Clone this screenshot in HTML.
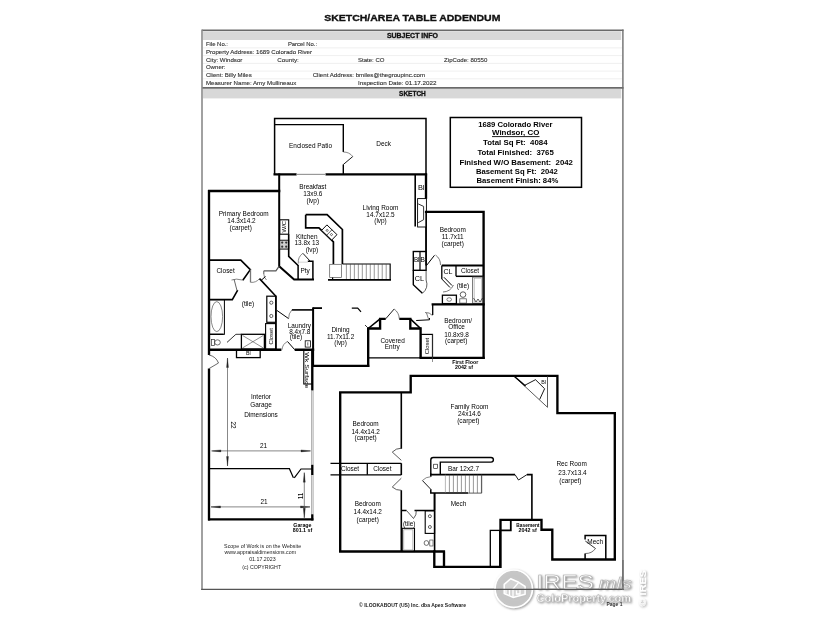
<!DOCTYPE html>
<html><head><meta charset="utf-8"><style>
html,body{margin:0;padding:0;background:#fff;}
svg{display:block;opacity:0.999;}
text{font-family:"Liberation Sans", sans-serif;}
</style></head><body>
<svg width="825" height="619" viewBox="0 0 825 619">
<rect width="825" height="619" fill="#fff"/>
<text x="324.2" y="21.0" font-size="9.9" font-weight="bold" textLength="176.2" lengthAdjust="spacingAndGlyphs" fill="#111" stroke="#111" stroke-width="0.35">SKETCH/AREA TABLE ADDENDUM</text>
<rect x="202" y="30.6" width="421" height="558.8" fill="#fff" stroke="none"/>
<rect x="203" y="31.2" width="418.2" height="8.8" fill="#d8d8d8"/>
<rect x="203" y="88.8" width="418.2" height="9.6" fill="#d8d8d8"/>
<line x1="203" y1="47.9" x2="622" y2="47.9" stroke="#e4e4e4" stroke-width="0.6"/>
<line x1="203" y1="55.6" x2="622" y2="55.6" stroke="#e4e4e4" stroke-width="0.6"/>
<line x1="203" y1="63.4" x2="622" y2="63.4" stroke="#e4e4e4" stroke-width="0.6"/>
<line x1="203" y1="71.1" x2="622" y2="71.1" stroke="#e4e4e4" stroke-width="0.6"/>
<line x1="203" y1="78.8" x2="622" y2="78.8" stroke="#e4e4e4" stroke-width="0.6"/>
<line x1="202" y1="30.3" x2="623.5" y2="30.3" stroke="#6a6a6a" stroke-width="1.6"/>
<line x1="202" y1="87.9" x2="623.5" y2="87.9" stroke="#6a6a6a" stroke-width="1.6"/>
<line x1="202" y1="29.5" x2="202" y2="590" stroke="#8a8a8a" stroke-width="1.6"/>
<line x1="622.9" y1="29.5" x2="622.9" y2="590" stroke="#6e6e6e" stroke-width="1.4"/>
<line x1="201.2" y1="589.4" x2="623.6" y2="589.4" stroke="#555" stroke-width="1.2"/>
<text x="386.9" y="37.5" font-size="6.6" font-weight="bold" textLength="51.1" lengthAdjust="spacingAndGlyphs" fill="#111" stroke="#111" stroke-width="0.3">SUBJECT INFO</text>
<text x="399.1" y="95.7" font-size="6.6" font-weight="bold" textLength="26.7" lengthAdjust="spacingAndGlyphs" fill="#111" stroke="#111" stroke-width="0.3">SKETCH</text>
<text x="205.9" y="46.3" font-size="5.6" textLength="22.1" lengthAdjust="spacingAndGlyphs" fill="#333" stroke="#333" stroke-width="0.12">File No.:</text>
<text x="287.9" y="46.3" font-size="5.6" textLength="29.2" lengthAdjust="spacingAndGlyphs" fill="#333" stroke="#333" stroke-width="0.12">Parcel No.:</text>
<text x="205.9" y="53.7" font-size="5.6" textLength="106.1" lengthAdjust="spacingAndGlyphs" fill="#333" stroke="#333" stroke-width="0.12">Property Address: 1689 Colorado River</text>
<text x="205.9" y="61.5" font-size="5.6" textLength="36.5" lengthAdjust="spacingAndGlyphs" fill="#333" stroke="#333" stroke-width="0.12">City: Windsor</text>
<text x="277.2" y="61.5" font-size="5.6" textLength="21.6" lengthAdjust="spacingAndGlyphs" fill="#333" stroke="#333" stroke-width="0.12">County:</text>
<text x="358.0" y="61.5" font-size="5.6" textLength="26.5" lengthAdjust="spacingAndGlyphs" fill="#333" stroke="#333" stroke-width="0.12">State: CO</text>
<text x="444.1" y="61.5" font-size="5.6" textLength="43.2" lengthAdjust="spacingAndGlyphs" fill="#333" stroke="#333" stroke-width="0.12">ZipCode: 80550</text>
<text x="205.9" y="69.2" font-size="5.6" textLength="19.6" lengthAdjust="spacingAndGlyphs" fill="#333" stroke="#333" stroke-width="0.12">Owner:</text>
<text x="205.9" y="76.9" font-size="5.6" textLength="45.9" lengthAdjust="spacingAndGlyphs" fill="#333" stroke="#333" stroke-width="0.12">Client: Billy Miles</text>
<text x="312.7" y="76.9" font-size="5.6" textLength="112.4" lengthAdjust="spacingAndGlyphs" fill="#333" stroke="#333" stroke-width="0.12">Client Address: bmiles@thegroupinc.com</text>
<text x="205.9" y="84.6" font-size="5.6" textLength="90.5" lengthAdjust="spacingAndGlyphs" fill="#333" stroke="#333" stroke-width="0.12">Measurer Name: Amy Mullineaux</text>
<text x="358.0" y="84.6" font-size="5.6" textLength="78.6" lengthAdjust="spacingAndGlyphs" fill="#333" stroke="#333" stroke-width="0.12">Inspection Date: 01.17.2022</text>
<rect x="450.3" y="117.5" width="131.2" height="69.8" stroke="#000" stroke-width="1.5" fill="none"/>
<text x="478.2" y="127.1" font-size="8.0" font-weight="bold" textLength="74.3" lengthAdjust="spacingAndGlyphs" fill="#000">1689 Colorado River</text>
<text x="492.0" y="135.1" font-size="8.0" font-weight="bold" textLength="47.3" lengthAdjust="spacingAndGlyphs" fill="#000">Windsor, CO</text>
<line x1="492" y1="136.6" x2="539.5" y2="136.6" stroke="#000" stroke-width="0.9"/>
<text x="483.1" y="144.9" font-size="8.0" font-weight="bold" textLength="64.5" lengthAdjust="spacingAndGlyphs" fill="#000">Total Sq Ft:  4084</text>
<text x="477.4" y="154.5" font-size="8.0" font-weight="bold" textLength="76.4" lengthAdjust="spacingAndGlyphs" fill="#000">Total Finished:  3765</text>
<text x="459.4" y="164.9" font-size="8.0" font-weight="bold" textLength="113.5" lengthAdjust="spacingAndGlyphs" fill="#000">Finished W/O Basement:  2042</text>
<text x="475.9" y="174.0" font-size="8.0" font-weight="bold" textLength="82.0" lengthAdjust="spacingAndGlyphs" fill="#000">Basement Sq Ft:  2042</text>
<text x="476.5" y="182.7" font-size="8.0" font-weight="bold" textLength="81.8" lengthAdjust="spacingAndGlyphs" fill="#000">Basement Finish: 84%</text>
<text x="359.1" y="606.5" font-size="5.0" font-weight="bold" textLength="106.9" lengthAdjust="spacingAndGlyphs" fill="#222">© ILOOKABOUT (US) Inc. dba Apex Software</text>
<text x="224.1" y="548.1" font-size="5.3" textLength="77.0" lengthAdjust="spacingAndGlyphs" fill="#222">Scope of Work is on the Website</text>
<text x="224.5" y="554.1" font-size="5.3" textLength="71.5" lengthAdjust="spacingAndGlyphs" fill="#222">www.appraisaldimensions.com</text>
<text x="249.2" y="561.1" font-size="5.3" textLength="26.4" lengthAdjust="spacingAndGlyphs" fill="#222">01.17.2023</text>
<text x="242.3" y="568.7" font-size="5.3" textLength="38.8" lengthAdjust="spacingAndGlyphs" fill="#222">(c) COPYRIGHT</text>
<path d="M274.6 174.4 V118.4 H426 V174.4" stroke="#000" stroke-width="1.5" fill="none"/>
<path d="M274.6 124.6 H343.3 V152 M343.3 164.5 V174.4" stroke="#000" stroke-width="1.4" fill="none"/>
<path d="M343.3 164.5 L352.8 156.5" stroke="#000" stroke-width="0.9" fill="none"/>
<path d="M343.3 152 A12 12 0 0 1 352.8 156.5" stroke="#555" stroke-width="0.7" fill="none"/>
<path d="M273.5 174.4 H296.6 M325.5 174.4 H427.1" stroke="#000" stroke-width="2.35" fill="none"/>
<path d="M296.6 174.4 H325.5" stroke="#999" stroke-width="1.2" fill="none"/>
<path d="M279.2 173.5 V266.2 L294.1 279.5 H314" stroke="#000" stroke-width="2.0" fill="none"/>
<path d="M208 191 H280.3" stroke="#000" stroke-width="2.35" fill="none"/>
<path d="M209 189.9 V355 M209 368.6 V520.4" stroke="#000" stroke-width="2.35" fill="none"/>
<path d="M209 260.1 H240.8 L250.3 269.6 L242.8 280.3" stroke="#000" stroke-width="1.6" fill="none"/>
<path d="M237.7 290.2 L232.3 299.6 H209" stroke="#000" stroke-width="1.6" fill="none"/>
<path d="M237 290.6 L234 279" stroke="#666" stroke-width="1.0" fill="none"/>
<path d="M231.5 280 Q236 278.2 242.8 280.1" stroke="#666" stroke-width="0.8" fill="none"/>
<path d="M250.5 269.5 V282.3" stroke="#777" stroke-width="1.3" fill="none"/>
<path d="M250.5 282.3 A10 10 0 0 0 259.5 278.6" stroke="#555" stroke-width="0.7" fill="none"/>
<path d="M263.8 270.8 H275.9 L279.2 266.2" stroke="#555" stroke-width="1.2" fill="none"/>
<path d="M263.8 270.8 V274" stroke="#555" stroke-width="1.0" fill="none"/>
<path d="M263.8 274 A9 9 0 0 0 266.5 280" stroke="#555" stroke-width="0.7" fill="none"/>
<path d="M259.5 278.6 L275.9 296.2 V349.7" stroke="#000" stroke-width="1.6" fill="none"/>
<path d="M261 280.5 L265.5 276.5" stroke="#000" stroke-width="1.0" fill="none"/>
<rect x="266.8" y="296.2" width="9.1" height="26.1" stroke="#000" stroke-width="1.2" fill="none"/>
<circle cx="271.3" cy="302.7" r="1.6" fill="none" stroke="#000" stroke-width="0.6"/>
<circle cx="271.3" cy="316" r="1.6" fill="none" stroke="#000" stroke-width="0.6"/>
<rect x="265.6" y="323.6" width="10.3" height="25.5" stroke="#000" stroke-width="1.1" fill="none"/>
<rect x="209" y="299.6" width="15.4" height="34.7" stroke="#000" stroke-width="1.0" fill="none"/>
<ellipse cx="216.8" cy="316.6" rx="5.8" ry="15" fill="none" stroke="#555" stroke-width="0.7"/>
<line x1="209" y1="334.3" x2="223.5" y2="334.3" stroke="#000" stroke-width="1.3"/>
<ellipse cx="217.5" cy="342.4" rx="2.8" ry="2.6" fill="none" stroke="#333" stroke-width="0.7"/>
<rect x="211.5" y="339.5" width="3" height="6" fill="none" stroke="#333" stroke-width="0.7"/>
<rect x="241.4" y="334.3" width="23" height="14.8" stroke="#000" stroke-width="1.3" fill="none"/>
<path d="M242.6 335.5 L263.2 347.9 M263.2 335.5 L242.6 347.9" stroke="#444" stroke-width="0.6" fill="none"/>
<path d="M241.4 334.3 L235.9 334.3 L227 342.4" stroke="#333" stroke-width="1.0" fill="none"/>
<path d="M208 349.7 H281.4 M294.7 349.7 H314.2" stroke="#000" stroke-width="2.35" fill="none"/>
<path d="M291.9 309.9 H313.1" stroke="#000" stroke-width="1.6" fill="none"/>
<path d="M277 310.5 L288.6 318.6" stroke="#000" stroke-width="1.0" fill="none"/>
<path d="M291.9 309.9 A12 12 0 0 0 288.6 318.6" stroke="#555" stroke-width="0.7" fill="none"/>
<path d="M313.1 307.5 V367" stroke="#000" stroke-width="2.0" fill="none"/>
<path d="M294.7 349.7 L287.5 341.5" stroke="#000" stroke-width="1.0" fill="none"/>
<path d="M282 349.7 A10 10 0 0 1 287.5 341.5" stroke="#555" stroke-width="0.7" fill="none"/>
<rect x="303.8" y="349.8" width="8.5" height="34.2" stroke="#000" stroke-width="1.1" fill="none"/>
<path d="M312.3 349 V390.5" stroke="#000" stroke-width="2.35" fill="none"/>
<rect x="236.5" y="349.7" width="23.7" height="7.9" stroke="#000" stroke-width="1.3" fill="none"/>
<path d="M209 355 A13 13 0 0 1 218.5 363 L209 368.6" stroke="#444" stroke-width="0.8" fill="none"/>
<path d="M311.6 390.5 V464.7 M311.6 474.9 V514.2 M313.1 390.5 V464.7 M313.1 474.9 V514.2" stroke="#888" stroke-width="0.7" fill="none"/>
<path d="M312.3 464.7 V474.9 M312.3 514.2 V520.4" stroke="#000" stroke-width="2.35" fill="none"/>
<path d="M209 468.7 H289.4 L293.4 477.8 M294.3 477.8 L301 469 H312" stroke="#000" stroke-width="1.2" fill="none"/>
<path d="M208 519.4 H313.4" stroke="#000" stroke-width="2.35" fill="none"/>
<path d="M227.5 358 V466" stroke="#555" stroke-width="0.7" fill="none"/>
<path d="M226.5 367.5 L227.5 358 L228.5 367.5 Z M226.5 456.5 L227.5 466 L228.5 456.5 Z" stroke="#222" stroke-width="0.3" fill="#222"/>
<path d="M212.3 450.9 H310.5" stroke="#555" stroke-width="0.7" fill="none"/>
<path d="M211.4 450.9 L220.9 449.9 V451.9 Z M310.5 450.9 L301 449.9 V451.9 Z" stroke="#222" stroke-width="0.3" fill="#222"/>
<path d="M211 506.9 H310" stroke="#555" stroke-width="0.7" fill="none"/>
<path d="M211 506.9 L220.5 505.9 V507.9 Z M310 506.9 L300.5 505.9 V507.9 Z" stroke="#222" stroke-width="0.3" fill="#222"/>
<path d="M304.3 472.7 V517.8" stroke="#555" stroke-width="0.7" fill="none"/>
<path d="M303.3 482.2 L304.3 472.7 L305.3 482.2 Z M303.3 508.3 L304.3 517.8 L305.3 508.3 Z" stroke="#222" stroke-width="0.3" fill="#222"/>
<rect x="279.7" y="219.8" width="9" height="14.4" stroke="#000" stroke-width="1.1" fill="none"/>
<rect x="279.7" y="240.2" width="9" height="8.9" stroke="#000" stroke-width="0.9" fill="#cfcfcf"/>
<circle cx="282.2" cy="242.6" r="1.1" fill="#333"/>
<circle cx="286.2" cy="242.6" r="1.1" fill="#333"/>
<circle cx="282.2" cy="246.7" r="1.1" fill="#333"/>
<circle cx="286.2" cy="246.7" r="1.1" fill="#333"/>
<path d="M288.7 234.2 V256.3 L298.1 265.5" stroke="#000" stroke-width="1.6" fill="none"/>
<path d="M298.1 265 V279.4 M307.8 261.3 H312.9 V279.4" stroke="#000" stroke-width="1.5" fill="none"/>
<path d="M310.3 261.3 L302.9 253.3" stroke="#000" stroke-width="0.9" fill="none"/>
<path d="M302.9 253.3 A11 11 0 0 0 298.3 263.5" stroke="#555" stroke-width="0.7" fill="none"/>
<path d="M298.6 262.2 H307.8" stroke="#bbb" stroke-width="0.6" fill="none"/>
<path d="M305.7 214.7 H327.1 L342.4 229.5 V263.9 M305.7 214.7 V227.8 H318.9 L333.4 241.8 V263.9" stroke="#000" stroke-width="1.7" fill="none"/>
<g transform="translate(329.3 232.5) rotate(44)"><rect x="-7" y="-3.8" width="14" height="7.6" fill="#fff" stroke="#000" stroke-width="0.9"/><line x1="0" y1="-3.8" x2="0" y2="3.8" stroke="#000" stroke-width="0.6"/><circle cx="-3" cy="0" r="1" fill="none" stroke="#000" stroke-width="0.5"/><circle cx="3" cy="0" r="1" fill="none" stroke="#000" stroke-width="0.5"/></g>
<rect x="329.7" y="264.3" width="11.8" height="13.2" stroke="#555" stroke-width="0.7" fill="none"/>
<line x1="332.6" y1="277.5" x2="332.6" y2="279.8" stroke="#000" stroke-width="1.2"/>
<path d="M342.4 264 H390.2 V279.7" stroke="#000" stroke-width="1.1" fill="none"/>
<line x1="346.4" y1="264" x2="346.4" y2="279.7" stroke="#444" stroke-width="0.55"/>
<line x1="350.38" y1="264" x2="350.38" y2="279.7" stroke="#444" stroke-width="0.55"/>
<line x1="354.35999999999996" y1="264" x2="354.35999999999996" y2="279.7" stroke="#444" stroke-width="0.55"/>
<line x1="358.34" y1="264" x2="358.34" y2="279.7" stroke="#444" stroke-width="0.55"/>
<line x1="362.32" y1="264" x2="362.32" y2="279.7" stroke="#444" stroke-width="0.55"/>
<line x1="366.29999999999995" y1="264" x2="366.29999999999995" y2="279.7" stroke="#444" stroke-width="0.55"/>
<line x1="370.28" y1="264" x2="370.28" y2="279.7" stroke="#444" stroke-width="0.55"/>
<line x1="374.26" y1="264" x2="374.26" y2="279.7" stroke="#444" stroke-width="0.55"/>
<line x1="378.23999999999995" y1="264" x2="378.23999999999995" y2="279.7" stroke="#444" stroke-width="0.55"/>
<line x1="382.21999999999997" y1="264" x2="382.21999999999997" y2="279.7" stroke="#444" stroke-width="0.55"/>
<line x1="386.2" y1="264" x2="386.2" y2="279.7" stroke="#444" stroke-width="0.55"/>
<line x1="390.17999999999995" y1="264" x2="390.17999999999995" y2="279.7" stroke="#444" stroke-width="0.55"/>
<path d="M328 279.9 H391" stroke="#000" stroke-width="1.6" fill="none"/>
<path d="M426 173.5 V198.8" stroke="#000" stroke-width="2.35" fill="none"/>
<path d="M415.2 174.6 V226.6" stroke="#000" stroke-width="1.6" fill="none"/>
<rect x="417.6" y="198.6" width="8.8" height="28.4" stroke="#000" stroke-width="0.9" fill="none"/>
<path d="M418.2 203.9 L423.6 206.4 V219.7 L418.2 222.7" stroke="#000" stroke-width="0.8" fill="none"/>
<path d="M426 227 V251.5" stroke="#000" stroke-width="1.4" fill="none"/>
<rect x="413.3" y="251.5" width="12.8" height="18.8" stroke="#000" stroke-width="1.4" fill="none"/>
<line x1="420.0" y1="251.5" x2="420.0" y2="270.3" stroke="#000" stroke-width="1.2"/>
<path d="M413.3 270.3 V284.8 L422.4 293.3" stroke="#000" stroke-width="1.4" fill="none"/>
<path d="M426.1 270.3 V280 A12 12 0 0 1 422.4 293.3" stroke="#333" stroke-width="0.8" fill="none"/>
<path d="M424.9 211.8 H484.7 M483.6 210.7 V358.9" stroke="#000" stroke-width="2.35" fill="none"/>
<path d="M426.1 211.8 V265.5" stroke="#000" stroke-width="1.5" fill="none"/>
<path d="M426.5 265.5 L434.5 255.3" stroke="#000" stroke-width="1.0" fill="none"/>
<path d="M435.5 255 A12 12 0 0 1 440.5 265" stroke="#444" stroke-width="0.7" fill="none"/>
<path d="M441.8 265.5 H483.6" stroke="#000" stroke-width="1.8" fill="none"/>
<path d="M441.8 265.5 V279 M456 265.5 V276.3" stroke="#000" stroke-width="1.3" fill="none"/>
<path d="M441.8 279 L450 287.5 M444 277.3 L452 285.5" stroke="#000" stroke-width="1.0" fill="none"/>
<path d="M443 292 A12 12 0 0 0 453.5 285" stroke="#444" stroke-width="0.7" fill="none"/>
<path d="M456 276.3 H483.6" stroke="#000" stroke-width="1.5" fill="none"/>
<circle cx="463" cy="294.6" r="2.8" fill="none" stroke="#333" stroke-width="0.8"/>
<rect x="459.8" y="298.8" width="6.5" height="4.3" stroke="#444" stroke-width="0.7" fill="none"/>
<rect x="472.7" y="277" width="10.3" height="26.3" stroke="#444" stroke-width="0.8" fill="none"/>
<rect x="474.2" y="278.2" width="7.5" height="23.8" stroke="#999" stroke-width="0.5" fill="none"/>
<path d="M473.5 298 L476 302 L478 299 L480 302 L482.5 298" stroke="#000" stroke-width="0.6" fill="none"/>
<rect x="442.4" y="295.2" width="14" height="8.4" stroke="#000" stroke-width="1.3" fill="none"/>
<ellipse cx="449.2" cy="299.5" rx="2.3" ry="1.8" fill="none" stroke="#333" stroke-width="0.6"/>
<path d="M431.6 304.4 H484.7" stroke="#000" stroke-width="2.35" fill="none"/>
<path d="M432.7 304.4 V315" stroke="#000" stroke-width="1.3" fill="none"/>
<path d="M416.2 320.5 L429.5 319.8 V318" stroke="#000" stroke-width="1.0" fill="none"/>
<path d="M426.5 313 L428.5 319 M425 312.5 A9 9 0 0 1 432.5 315.5" stroke="#444" stroke-width="0.7" fill="none"/>
<path d="M419.5 357.8 H484.7" stroke="#000" stroke-width="2.35" fill="none"/>
<rect x="420.6" y="334.4" width="11.9" height="23.4" stroke="#000" stroke-width="1.2" fill="none"/>
<path d="M432.5 334.4 V362" stroke="#444" stroke-width="0.6" fill="none"/>
<path d="M367.8 328.5 H380.1 V318.8 H385.7 M399.3 318.8 H410.3 V328.5 H420.6 V357.8" stroke="#000" stroke-width="2.35" fill="none"/>
<path d="M368.2 328.5 L380.1 318.8 M410.3 318.8 L420.6 328.5" stroke="#000" stroke-width="1.6" fill="none"/>
<path d="M385.7 318.8 L394.2 309" stroke="#000" stroke-width="0.9" fill="none"/>
<path d="M394.2 309 A13 13 0 0 1 399.3 318.8" stroke="#444" stroke-width="0.7" fill="none"/>
<path d="M368.2 357.9 H420.6" stroke="#000" stroke-width="1.3" fill="none"/>
<path d="M368.2 328 V367" stroke="#000" stroke-width="2.35" fill="none"/>
<path d="M312.3 365.8 H369.3" stroke="#000" stroke-width="2.35" fill="none"/>
<path d="M312.7 308.1 H322" stroke="#000" stroke-width="1.8" fill="none"/>
<path d="M351.8 308.1 H357.7 L361 311.8" stroke="#000" stroke-width="1.2" fill="none"/>
<path d="M365 325 L368.4 328.4" stroke="#000" stroke-width="0.8" fill="none"/>
<path d="M340.2 392.3 H410.7 V375.8 H557.4 V413.1 H614.8 V559.5 H552.3 V529.7 H541.5 V519.9 H500.5 V566.8 H434.3 V551.5 H340.2 Z" stroke="#000" stroke-width="2.35" fill="none" stroke-linejoin="miter"/>
<path d="M444 551.5 V566.8 M433.2 551.5 H445.1" stroke="#000" stroke-width="2.35" fill="none"/>
<path d="M401.3 392.3 V448.7 M401.3 463.3 V474.9 M401.3 490.2 V551.5" stroke="#000" stroke-width="1.6" fill="none"/>
<path d="M330.5 463.4 H401.3 M330.5 474.8 H401.3" stroke="#000" stroke-width="1.3" fill="none"/>
<line x1="367.3" y1="463.4" x2="367.3" y2="474.8" stroke="#000" stroke-width="1.3"/>
<path d="M401.3 460.3 L392.3 452.1 A12.2 12.2 0 0 1 401.3 448.2" stroke="#333" stroke-width="0.8" fill="none"/>
<path d="M401.3 478.2 L392.3 487 A12.2 12.2 0 0 0 401.3 490.3" stroke="#333" stroke-width="0.8" fill="none"/>
<path d="M401.6 510.5 H406.5 M414.5 510.5 H434.6" stroke="#000" stroke-width="1.3" fill="none"/>
<path d="M406.5 510.5 L413.5 518.5 M413.5 518.5 A10 10 0 0 0 416.3 510.5" stroke="#333" stroke-width="0.8" fill="none"/>
<rect x="402.2" y="528.3" width="12.3" height="23.2" stroke="#000" stroke-width="1.1" fill="none"/>
<rect x="403.8" y="529.8" width="9.1" height="20.2" stroke="#888" stroke-width="0.6" fill="none"/>
<rect x="425.2" y="510.8" width="9.4" height="22.6" stroke="#000" stroke-width="1.1" fill="none"/>
<circle cx="429.9" cy="516.2" r="1.5" fill="none" stroke="#000" stroke-width="0.6"/>
<circle cx="429.9" cy="527" r="1.5" fill="none" stroke="#000" stroke-width="0.6"/>
<ellipse cx="426.4" cy="543" rx="2.3" ry="2.4" fill="none" stroke="#333" stroke-width="0.7"/>
<rect x="429.8" y="540" width="3.2" height="6" stroke="#333" stroke-width="0.6" fill="none"/>
<path d="M434.6 493 V551.5" stroke="#000" stroke-width="1.6" fill="none"/>
<path d="M430.8 474.6 V460 Q430.8 457.5 433.3 457.5 H491 Q493.4 457.5 493.4 459.8 Q493.4 462.1 491 462.1 H440.3 V474.6" stroke="#000" stroke-width="1.4" fill="none"/>
<rect x="433.7" y="464.2" width="3.7" height="4.3" stroke="#000" stroke-width="0.6" fill="none"/>
<path d="M430.8 474.6 H515 M527 474.6 H531.9 V520.2" stroke="#000" stroke-width="1.6" fill="none"/>
<path d="M515 474.6 L518.5 480 L527 474.6" stroke="#000" stroke-width="0.9" fill="none"/>
<path d="M430.8 473.6 V476.7 M430.8 489.3 V493.1 H468" stroke="#000" stroke-width="1.5" fill="none"/>
<path d="M445.4 474.6 V493.1" stroke="#888" stroke-width="0.6" fill="none"/>
<path d="M445.4 493.1 H481.7 V474.6" stroke="#333" stroke-width="0.8" fill="none"/>
<line x1="449.4" y1="474.6" x2="449.4" y2="493.1" stroke="#444" stroke-width="0.55"/>
<line x1="453.4" y1="474.6" x2="453.4" y2="493.1" stroke="#444" stroke-width="0.55"/>
<line x1="457.4" y1="474.6" x2="457.4" y2="493.1" stroke="#444" stroke-width="0.55"/>
<line x1="461.4" y1="474.6" x2="461.4" y2="493.1" stroke="#444" stroke-width="0.55"/>
<line x1="465.4" y1="474.6" x2="465.4" y2="493.1" stroke="#444" stroke-width="0.55"/>
<line x1="469.4" y1="474.6" x2="469.4" y2="493.1" stroke="#444" stroke-width="0.55"/>
<line x1="473.4" y1="474.6" x2="473.4" y2="493.1" stroke="#444" stroke-width="0.55"/>
<line x1="477.4" y1="474.6" x2="477.4" y2="493.1" stroke="#444" stroke-width="0.55"/>
<line x1="481.4" y1="474.6" x2="481.4" y2="493.1" stroke="#444" stroke-width="0.55"/>
<path d="M430.8 489.3 L422.4 480.5" stroke="#000" stroke-width="0.9" fill="none"/>
<path d="M422.4 480.5 A12 12 0 0 1 430.8 476.7" stroke="#555" stroke-width="0.7" fill="none"/>
<path d="M434.5 493 V510" stroke="#000" stroke-width="1.6" fill="none"/>
<rect x="490.3" y="530.4" width="9.4" height="36.4" stroke="#000" stroke-width="1.3" fill="none"/>
<path d="M500.5 530.3 H510.8 V519.9" stroke="#000" stroke-width="1.8" fill="none"/>
<path d="M585.1 539.5 V535.5 H605.8 V559.5 M585.1 553.5 V559.5" stroke="#000" stroke-width="1.5" fill="none"/>
<path d="M585.3 541 L595.5 548.5" stroke="#000" stroke-width="0.8" fill="none"/>
<path d="M595.5 548.5 A12 12 0 0 1 585.3 553.5" stroke="#333" stroke-width="0.7" fill="none"/>
<path d="M514.5 376.7 L547.5 407.3 M547.5 376 V407.3" stroke="#333" stroke-width="0.8" fill="none"/>
<path d="M524.9 385.2 L535.5 379.7 L544.6 388.7 L539.7 399.4" stroke="#000" stroke-width="0.9" fill="none"/>
<path d="M514.5 376.5 L525.5 386" stroke="#000" stroke-width="1.5" fill="none"/>
<text x="310.5" y="148.1" font-size="6.45" text-anchor="middle" fill="#000">Enclosed Patio</text>
<text x="383.7" y="146.4" font-size="6.45" text-anchor="middle" fill="#000">Deck</text>
<text x="312.8" y="189.3" font-size="6.45" text-anchor="middle" fill="#000">Breakfast</text>
<text x="312.8" y="196.1" font-size="6.45" text-anchor="middle" fill="#000">13x9.6</text>
<text x="312.8" y="203.2" font-size="6.45" text-anchor="middle" fill="#000">(lvp)</text>
<text x="380.5" y="209.8" font-size="6.45" text-anchor="middle" fill="#000">Living Room</text>
<text x="380.5" y="216.9" font-size="6.45" text-anchor="middle" fill="#000">14.7x12.5</text>
<text x="380.5" y="223.0" font-size="6.45" text-anchor="middle" fill="#000">(lvp)</text>
<text x="243.7" y="215.7" font-size="6.45" text-anchor="middle" fill="#000">Primary Bedroom</text>
<text x="241.5" y="223.4" font-size="6.45" text-anchor="middle" fill="#000">14.3x14.2</text>
<text x="240.7" y="229.7" font-size="6.45" text-anchor="middle" fill="#000">(carpet)</text>
<text x="306.8" y="238.7" font-size="6.45" text-anchor="middle" fill="#000">Kitchen</text>
<text x="306.8" y="245.4" font-size="6.45" text-anchor="middle" fill="#000">13.8x 13</text>
<text x="311.9" y="251.9" font-size="6.45" text-anchor="middle" fill="#000">(lvp)</text>
<text x="305.2" y="273.4" font-size="6.45" text-anchor="middle" fill="#000">Pty</text>
<text x="225.6" y="273.3" font-size="6.45" text-anchor="middle" fill="#000">Closet</text>
<text x="248.0" y="306.0" font-size="6.45" text-anchor="middle" fill="#000">(tile)</text>
<text x="417.9" y="189.7" font-size="6.3" textLength="6.6" lengthAdjust="spacingAndGlyphs" fill="#000">Bl</text>
<text x="452.7" y="232.3" font-size="6.45" text-anchor="middle" fill="#000">Bedroom</text>
<text x="452.7" y="239.1" font-size="6.45" text-anchor="middle" fill="#000">11.7x11</text>
<text x="452.7" y="246.3" font-size="6.45" text-anchor="middle" fill="#000">(carpet)</text>
<text x="413.9" y="262.2" font-size="6.3" textLength="5.6" lengthAdjust="spacingAndGlyphs" fill="#000">Bl</text>
<text x="420.6" y="262.2" font-size="6.3" textLength="4.4" lengthAdjust="spacingAndGlyphs" fill="#000">B</text>
<text x="414.7" y="281.1" font-size="6.3" textLength="9.3" lengthAdjust="spacingAndGlyphs" fill="#000">CL</text>
<text x="443.5" y="273.6" font-size="6.3" textLength="9.0" lengthAdjust="spacingAndGlyphs" fill="#000">CL</text>
<text x="470.0" y="272.9" font-size="6.45" text-anchor="middle" fill="#000">Closet</text>
<text x="463.0" y="287.7" font-size="6.45" text-anchor="middle" fill="#000">(tile)</text>
<text x="458.2" y="323.1" font-size="6.45" text-anchor="middle" fill="#000">Bedroom/</text>
<text x="456.6" y="329.4" font-size="6.45" text-anchor="middle" fill="#000">Office</text>
<text x="456.5" y="337.4" font-size="6.45" text-anchor="middle" fill="#000">10.8x9.8</text>
<text x="456.2" y="342.6" font-size="6.45" text-anchor="middle" fill="#000">(carpet)</text>
<text x="465.3" y="363.5" font-size="5.3" text-anchor="middle" font-weight="bold" fill="#000">First Floor</text>
<text x="464.0" y="368.8" font-size="5.3" text-anchor="middle" font-weight="bold" fill="#000">2042 sf</text>
<text x="299.4" y="327.8" font-size="6.45" text-anchor="middle" fill="#000">Laundry</text>
<text x="299.8" y="333.7" font-size="6.45" text-anchor="middle" fill="#000">8.4x7.8</text>
<text x="296.0" y="339.3" font-size="6.45" text-anchor="middle" fill="#000">(tile)</text>
<text x="340.6" y="331.6" font-size="6.45" text-anchor="middle" fill="#000">Dining</text>
<text x="340.6" y="338.6" font-size="6.45" text-anchor="middle" fill="#000">11.7x11.2</text>
<text x="340.6" y="345.4" font-size="6.45" text-anchor="middle" fill="#000">(lvp)</text>
<text x="392.6" y="342.7" font-size="6.45" text-anchor="middle" fill="#000">Covered</text>
<text x="392.3" y="349.1" font-size="6.45" text-anchor="middle" fill="#000">Entry</text>
<text x="248.3" y="355.3" font-size="5.3" text-anchor="middle" fill="#000">Bl</text>
<text x="261.0" y="398.6" font-size="6.45" text-anchor="middle" fill="#000">Interior</text>
<text x="261.0" y="406.6" font-size="6.45" text-anchor="middle" fill="#000">Garage</text>
<text x="261.0" y="416.6" font-size="6.45" text-anchor="middle" fill="#000">Dimensions</text>
<text x="263.5" y="447.7" font-size="6.45" text-anchor="middle" fill="#000">21</text>
<text x="264.0" y="504.4" font-size="6.45" text-anchor="middle" fill="#000">21</text>
<text x="302.4" y="527.1" font-size="5.3" text-anchor="middle" font-weight="bold" fill="#000">Garage</text>
<text x="302.5" y="532.4" font-size="5.3" text-anchor="middle" font-weight="bold" fill="#000">801.1 sf</text>
<text x="0" y="0" font-size="6.3" text-anchor="middle" transform="translate(231.3 425) rotate(90)">22</text>
<text x="0" y="0" font-size="6.3" text-anchor="middle" transform="translate(302.5 496) rotate(-90)">11</text>
<text x="0" y="0" font-size="6" text-anchor="middle" transform="translate(286.4 226.7) rotate(-90)">W/C</text>
<text x="0" y="0" font-size="5.8" text-anchor="middle" transform="translate(273 336.4) rotate(-90)">Closet</text>
<text x="0" y="0" font-size="5.8" text-anchor="middle" transform="translate(428.7 346) rotate(-90)">Closet</text>
<text x="0" y="0" font-size="6" transform="translate(305.2 352.3) rotate(90)" textLength="36" lengthAdjust="spacingAndGlyphs">Wk  Surface</text>
<rect x="305.2" y="340.8" width="5.3" height="6.3" stroke="#000" stroke-width="0.8" fill="none"/>
<line x1="307.8" y1="342.3" x2="307.8" y2="345.5" stroke="#000" stroke-width="0.6"/>
<text x="365.6" y="425.5" font-size="6.45" text-anchor="middle" fill="#000">Bedroom</text>
<text x="365.6" y="433.5" font-size="6.45" text-anchor="middle" fill="#000">14.4x14.2</text>
<text x="365.6" y="440.4" font-size="6.45" text-anchor="middle" fill="#000">(carpet)</text>
<text x="469.5" y="409.2" font-size="6.45" text-anchor="middle" fill="#000">Family Room</text>
<text x="469.5" y="416.4" font-size="6.45" text-anchor="middle" fill="#000">24x14.6</text>
<text x="468.3" y="422.7" font-size="6.45" text-anchor="middle" fill="#000">(carpet)</text>
<text x="350.0" y="470.7" font-size="6.45" text-anchor="middle" fill="#000">Closet</text>
<text x="382.3" y="470.7" font-size="6.45" text-anchor="middle" fill="#000">Closet</text>
<text x="367.7" y="506.3" font-size="6.45" text-anchor="middle" fill="#000">Bedroom</text>
<text x="367.7" y="514.2" font-size="6.45" text-anchor="middle" fill="#000">14.4x14.2</text>
<text x="367.7" y="522.2" font-size="6.45" text-anchor="middle" fill="#000">(carpet)</text>
<text x="409.2" y="525.8" font-size="6.45" text-anchor="middle" fill="#000">(tile)</text>
<text x="463.5" y="470.7" font-size="6.45" text-anchor="middle" fill="#000">Bar 12x2.7</text>
<text x="458.5" y="505.5" font-size="6.45" text-anchor="middle" fill="#000">Mech</text>
<text x="571.6" y="465.5" font-size="6.45" text-anchor="middle" fill="#000">Rec Room</text>
<text x="572.5" y="474.6" font-size="6.45" text-anchor="middle" fill="#000">23.7x13.4</text>
<text x="570.4" y="482.9" font-size="6.45" text-anchor="middle" fill="#000">(carpet)</text>
<text x="516.3" y="526.8" font-size="5.4" font-weight="bold" textLength="23.2" lengthAdjust="spacingAndGlyphs" fill="#000">Basement</text>
<text x="518.6" y="531.8" font-size="5.4" font-weight="bold" textLength="18.2" lengthAdjust="spacingAndGlyphs" fill="#000">2042 sf</text>
<text x="595.2" y="543.6" font-size="6.45" text-anchor="middle" fill="#000">Mech</text>
<text x="543.5" y="383.7" font-size="5.3" text-anchor="middle" fill="#000">Bl</text>

<defs>
 <filter id="sh" x="-30%" y="-30%" width="160%" height="160%">
  <feGaussianBlur in="SourceAlpha" stdDeviation="1.1" result="b"/>
  <feOffset in="b" dx="0.6" dy="0.9" result="o"/>
  <feFlood flood-color="#707070" flood-opacity="0.8"/>
  <feComposite in2="o" operator="in" result="s"/>
  <feMerge><feMergeNode in="s"/><feMergeNode in="SourceGraphic"/></feMerge>
 </filter>
</defs>
<g filter="url(#sh)">
 <circle cx="513.7" cy="588.7" r="17.8" fill="#cbcbcb" fill-opacity="0.8"/>
 <circle cx="513.7" cy="588.7" r="18.7" fill="none" stroke="#fff" stroke-width="1.7"/>
 <path d="M504.2 584.4 L510.7 578.7 L518.7 582.3 L525.1 586.5 V594.2 L513 597.4 L504.2 593.5 Z" fill="#d4d4d4" stroke="#fff" stroke-width="1.5" stroke-linejoin="round"/>
 <path d="M518.7 582.3 L513 589 V597.4 M506 589.5 V593.5 M509.5 589.5 V595 M516.5 590.5 V594 H520 V589.5" fill="none" stroke="#fff" stroke-width="1.3"/>
 <text x="536.5" y="588.9" font-size="21" fill="#fff" stroke="#a8a8a8" stroke-width="0.6" textLength="57.5" lengthAdjust="spacingAndGlyphs">IRES</text>
 <text x="598.4" y="588.5" font-size="17" font-style="italic" font-family="Liberation Serif, serif" fill="#f4f4f4" stroke="#aaa" stroke-width="0.5" textLength="33.4" lengthAdjust="spacingAndGlyphs">mls</text>
 <text x="536.5" y="602" font-size="10.4" font-weight="bold" fill="#fff" stroke="#b0b0b0" stroke-width="0.4" textLength="94.6" lengthAdjust="spacingAndGlyphs">ColoProperty.com</text>
 <text x="0" y="0" font-size="9.4" font-weight="bold" fill="#fff" transform="translate(646.4 606.4) rotate(-90)" textLength="36.4" lengthAdjust="spacingAndGlyphs">© IRES</text>
</g>

<line x1="480" y1="589.4" x2="623.6" y2="589.4" stroke="#555" stroke-width="1.2"/>
<line x1="622.9" y1="560" x2="622.9" y2="590" stroke="#6e6e6e" stroke-width="1.4"/>
<text x="606.4" y="606.4" font-size="5.0" font-weight="bold" textLength="16.0" lengthAdjust="spacingAndGlyphs" fill="#333">Page 1</text>
</svg>
</body></html>
